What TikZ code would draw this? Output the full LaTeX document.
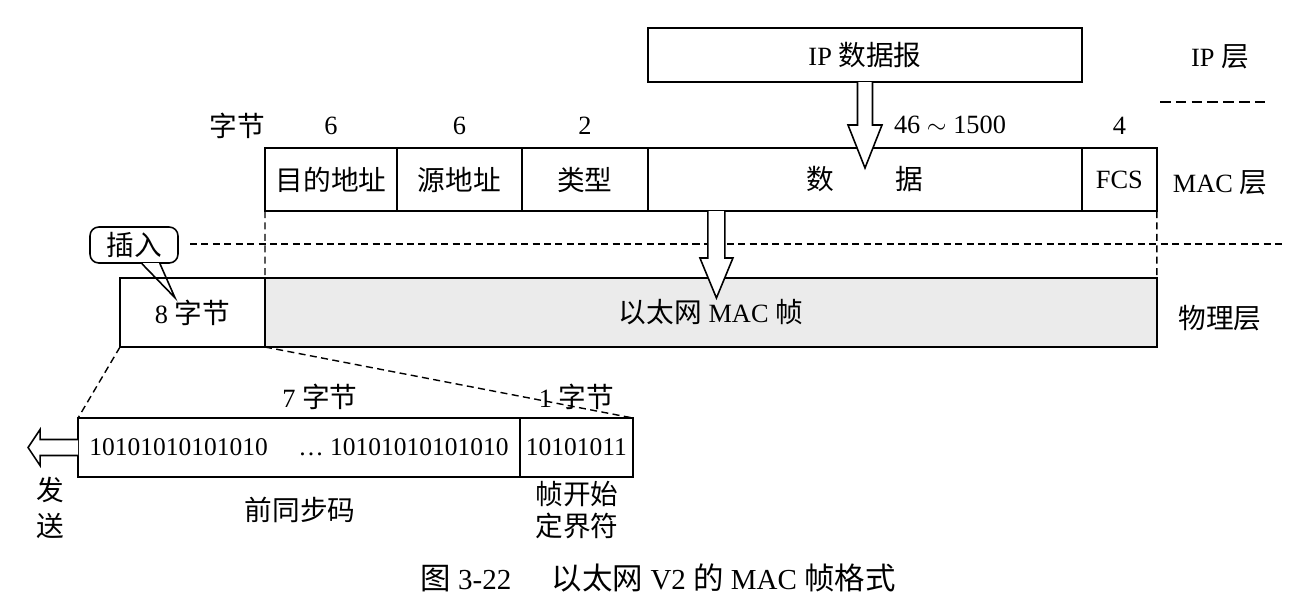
\documentclass[tikz,border=0pt]{standalone}
\usepackage{fontspec}
\setmainfont{Liberation Serif}
\newfontfamily\cjk[Scale=1.05]{Noto Sans CJK SC}
\usetikzlibrary{calc,positioning}
\newcommand{\zh}[1]{{\cjk #1}}

\begin{document}
\begin{tikzpicture}[x=0.02cm,y=-0.02cm,
  font=\fontsize{15}{18}\selectfont,
  cell/.style={draw, line width=0.9pt, inner sep=0pt, outer sep=0pt, minimum height=1.26cm},
  phy/.style={draw, line width=0.9pt, inner sep=0pt, outer sep=0pt, minimum height=1.38cm},
  bits/.style={draw, line width=1.3pt, inner sep=0pt, outer sep=0pt, minimum height=1.18cm,
    font=\fontsize{14.5}{17}\selectfont},
  guide/.style={line width=0.8pt, dash pattern=on 4pt off 2.5pt},
  hollow/.style={draw, fill=white, line width=0.9pt, line join=miter}]
\useasboundingbox (0,0) rectangle (1316,606);

%====================================================
% IP LAYER AND MAC FRAME
%====================================================
\node[cell, minimum width=8.68cm, minimum height=1.08cm] (ip) at (865,55) {IP \zh{数据报}};

\node[cell, minimum width=2.64cm] (dst) at (331,179.5) {\zh{目的地址}};
\node[cell, minimum width=2.5cm, right=0pt of dst] (src) {\zh{源地址}};
\node[cell, minimum width=2.52cm, right=0pt of src] (type) {\zh{类型}};
\node[cell, minimum width=8.68cm, right=0pt of type] (data) {\zh{数}\hspace{2.3em}\zh{据}};
\node[cell, minimum width=1.5cm, right=0pt of data] (fcs) {FCS};

\node (bytes) at (237,126) {\zh{字节}};
\node (ldst) at (dst.north |- bytes) {6};
\node (lsrc) at (src.north |- bytes) {6};
\node (ltype) at (type.north |- bytes) {2};
\node (ldata) at (950,125) {46 $\sim$ 1500};
\node (lfcs) at (fcs.north |- bytes) {4};

%====================================================
% PHYSICAL LAYER
%====================================================
\node[phy, minimum width=2.9cm] (pre) at (192.5,312.5) {8 \zh{字节}};
\node[phy, minimum width=17.84cm, fill=black!8, right=0pt of pre] (frame) {\zh{以太网} MAC \zh{帧}};

\node[bits, minimum width=8.84cm] (sync) at (299,447.5) {10101010101010\hspace{1.2em}\dots\ 10101010101010};
\node[bits, minimum width=2.26cm, right=0pt of sync] (sfd) {10101011};

\node (l7) at (320,397) {7 \zh{字节}};
\node (l1) at (sfd.north |- l7) {1 \zh{字节}};
\node (lsync) at (300,510) {\zh{前同步码}};
\node[align=center] (lsfd) at (577,510) {\zh{帧开始}\\\zh{定界符}};
\node[align=center] (lsend) at (50,508) {\zh{发}\\[2pt]\zh{送}};

% layer names
\node (lip) at (1220,57) {IP \zh{层}};
\node (lmac) at (1220,183) {MAC \zh{层}};
\node (lphy) at (1220,318) {\zh{物理层}};

%====================================================
% GUIDE LINES
%====================================================
\coordinate (sepA) at (1160,102);
\coordinate (sepB) at (1270,102);
\draw[guide, dash pattern=on 6pt off 3pt] (sepA) -- (sepB);
\coordinate (sepL) at (190,244);
\coordinate (sepR) at (1282,244);
\draw[guide] (sepL) -- (sepR);
\draw[guide] (dst.south west) -- (frame.north west);
\draw[guide] (fcs.south east) -- (frame.north east);
\draw[guide] (pre.south west) -- (sync.north west);
\draw[guide] (frame.south west) -- (sfd.north east);

%====================================================
% HOLLOW ARROWS
%====================================================
\draw[hollow] ($(ip.south)+(-7.5,0)$) -- ++(0,43) -- ++(-9.5,0) -- ($(ip.south)+(0,86)$)
  -- ($(ip.south)+(17,43)$) -- ++(-9.5,0) -- ($(ip.south)+(7.5,0)$);
\coordinate (drop) at ($(data.south west)+(68.5,0)$);
\draw[hollow] ($(drop)+(-8.5,0)$) -- ++(0,47) -- ++(-8,0) -- ($(drop)+(0,87)$)
  -- ($(drop)+(16.5,47)$) -- ++(-8,0) -- ($(drop)+(8.5,0)$);
\draw[hollow] ($(sync.west)+(0,-8)$) -- ++(-38,0) -- ++(0,-10) -- ($(sync.west)+(-50,0)$)
  -- ($(sync.west)+(-38,18)$) -- ++(0,-10) -- ($(sync.west)+(0,8)$);

% callout
\node[draw, rounded corners=5pt, line width=0.9pt, minimum width=1.76cm, minimum height=0.72cm,
  inner sep=0pt, fill=white] (ins) at (134,245) {\zh{插入}};
\fill[white] ($(ins.south)+(8.7,-1)$) rectangle ($(ins.south)+(25.3,1)$);
\draw[line width=0.9pt] ($(ins.south)+(8,0)$) -- ($(ins.south)+(41,34)$) -- ($(ins.south)+(26,0)$);

\node[font=\fontsize{16.5}{20}\selectfont] (cap) at (658,578)
  {\zh{图} 3-22\hspace{1.4em}\zh{以太网} V2 \zh{的} MAC \zh{帧格式}};
\end{tikzpicture}
\end{document}
